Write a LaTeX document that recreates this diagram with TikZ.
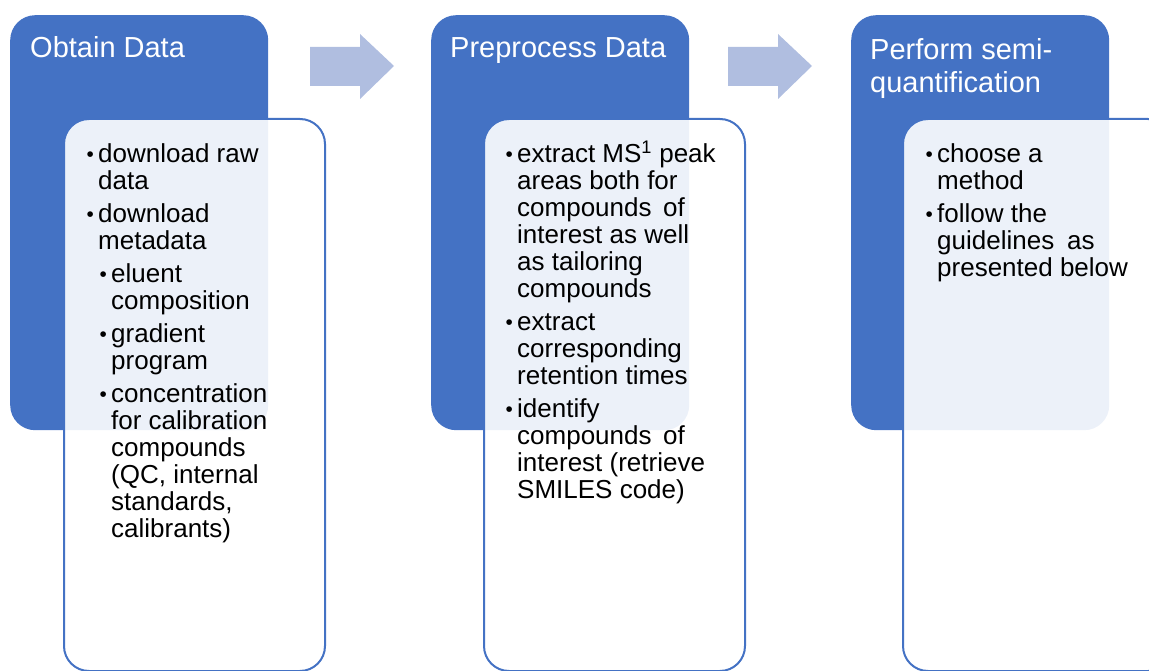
\documentclass[tikz,border=0pt]{standalone}
\usepackage{fontspec}
\setmainfont{Liberation Sans}

\definecolor{azul}{HTML}{4472C4}
\definecolor{flecha}{HTML}{B0BEE0}

% punto de lista con sangria francesa (#1 = sangria extra)
\newcommand{\punto}[2][0pt]{\par\hangindent=\dimexpr#1+10pt\relax\hangafter=1
  \hspace*{#1}\makebox[10pt][l]{\hspace*{-1.5pt}\raisebox{1pt}{\scalebox{0.8}{\textbullet}}}#2}
% bloque de texto con lineas cortadas a mano
\newcommand{\bloque}[1]{\parbox[t]{240pt}{\raggedright\fontsize{26pt}{27pt}\selectfont
  \setlength{\parskip}{6pt}#1}}

\tikzset{
  pestana/.style={fill=azul, rounded corners=25pt, inner sep=0pt,
    minimum width=258pt, minimum height=415pt, anchor=north west},
  caja/.style={draw=azul, line width=2pt, fill=white, fill opacity=0.9,
    rounded corners=25pt, inner sep=0pt, minimum width=261pt,
    minimum height=552pt, anchor=north west},
  titulo/.style={text=white, inner sep=0pt, anchor=base west,
    font=\fontsize{29pt}{33pt}\selectfont},
  texto/.style={text=black, inner sep=0pt, anchor=base west}
}

\begin{document}
\begin{tikzpicture}[x=1pt, y=-1pt]
    % Definir el marco y las distancias entre columnas
    \def\dx{421} % distancia horizontal entre columnas
    \useasboundingbox (0,0) rectangle (1149,671);
    \clip (0,0) rectangle (1149,671);

    % Flechas entre las columnas
    \foreach \i in {0,1}{
        \fill[flecha] (310+\i*418,47) -- (360+\i*418,47) -- (360+\i*418,34)
            -- (394+\i*418,66) -- (360+\i*418,99) -- (360+\i*418,86)
            -- (310+\i*418,86) -- cycle;
    }

    % Columna 1: obtener datos
    \node[pestana] (pestA) at (10,15) {};
    \node[titulo] (titA) at (30,58) {Obtain Data};
    \node[caja] (cajaA) at (63,118) {};
    \node[texto] (txtA) at (88,163) {\bloque{%
        \punto{download raw\newline data}
        \punto{download\newline metadata}
        \punto[13pt]{eluent\newline composition}
        \punto[13pt]{gradient\newline program}
        \punto[13pt]{concentration\newline for calibration\newline compounds\newline
          (QC, internal\newline standards,\newline calibrants)}}};

    % Columna 2: preprocesar datos
    \node[pestana] (pestB) at (10+\dx,15) {};
    \node[titulo] (titB) at (30+\dx-1,58) {Preprocess Data};
    \node[caja] (cajaB) at (63+\dx-1,118) {};
    \node[texto] (txtB) at (507,163) {\bloque{%
        \punto{extract MS\textsuperscript{1} peak\newline areas both for\newline
          compounds\, of\newline interest as well\newline as tailoring\newline compounds}
        \punto{extract\newline corresponding\newline retention times}
        \punto{identify\newline compounds\, of\newline interest (retrieve\newline
          SMILES code)}}};

    % Columna 3: semicuantificacion
    \node[pestana] (pestC) at (10+\dx*2-1,15) {};
    \node[titulo] (titC) at (870,60) {\parbox[t]{240pt}{Perform semi-\\quantification}};
    \node[caja, minimum width=270pt] (cajaC) at (902,118) {};
    \node[texto] (txtC) at (927,163) {\bloque{%
        \punto{choose a\newline method}
        \punto{follow the\newline guidelines\enspace as\newline presented below}}};
\end{tikzpicture}
\end{document}
